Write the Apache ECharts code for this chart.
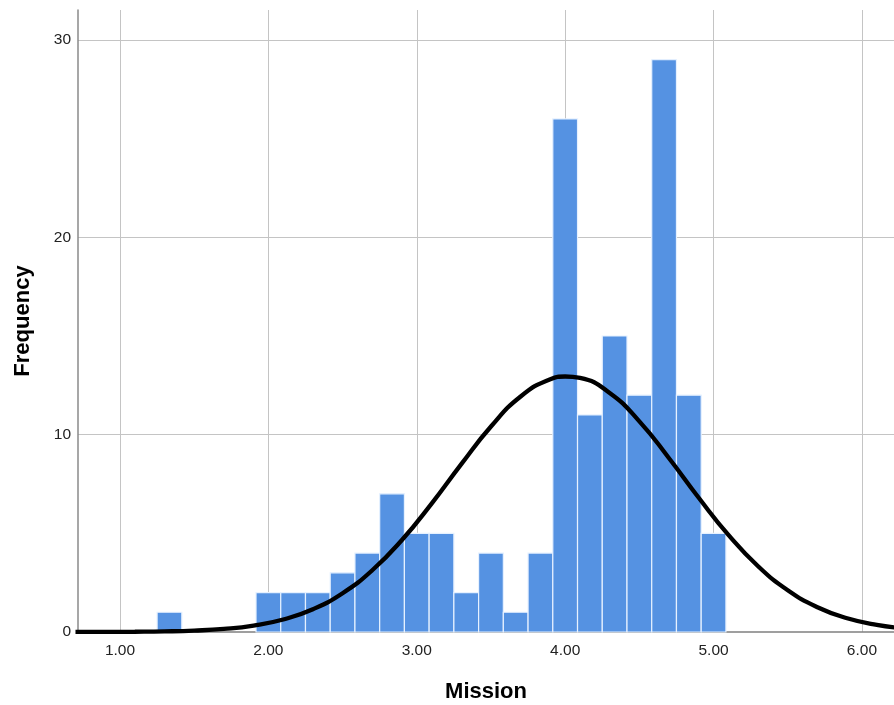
<!DOCTYPE html>
<html><head><meta charset="utf-8">
<script src="https://cdn.jsdelivr.net/npm/echarts@6/dist/echarts.min.js"></script>
<style>html,body{margin:0;padding:0;background:#fff}#c{width:894px;height:705px}</style>
</head><body><div id="c"></div>
<script>
// Histogram bins (Mission), bin width 1/6 starting at 1.25
const binStart = 1.25;
const binWidth = 1 / 6;
const counts = [1, 0, 0, 0, 2, 2, 2, 3, 4, 7, 5, 5, 2, 4, 1, 4, 26, 11, 15, 12, 29, 12, 5];
// Fitted normal curve (mean ~4.02, sd ~0.78, N=152), values read/estimated
const curveX = [0.7, 0.9, 1.1, 1.3, 1.5, 1.7, 1.9, 2.1, 2.3, 2.5, 2.7, 2.9, 3.1, 3.3, 3.5, 3.7, 3.9, 4.0, 4.1, 4.3, 4.5, 4.7, 4.9, 5.1, 5.3, 5.5, 5.7, 5.9, 6.1, 6.3];
const curveY = [0.002, 0.004, 0.012, 0.030, 0.072, 0.158, 0.328, 0.636, 1.155, 1.965, 3.128, 4.662, 6.509, 8.508, 10.413, 11.936, 12.810, 12.948, 12.873, 12.114, 10.674, 8.806, 6.804, 4.921, 3.334, 2.115, 1.256, 0.698, 0.364, 0.177];
const xTicks = [1, 2, 3, 4, 5, 6];
const yTicks = [0, 10, 20, 30];

const barData = [];
counts.forEach((c, i) => {
  if (c > 0) barData.push([binStart + i * binWidth, binStart + (i + 1) * binWidth, c]);
});
const curveData = curveX.map((x, i) => [x, curveY[i]]);

const chart = echarts.init(document.getElementById('c'), null, {renderer: 'canvas'});
const font = '"Liberation Sans", Arial, sans-serif';
chart.setOption({
  animation: false,
  backgroundColor: '#ffffff',
  grid: {left: 78, right: 0, top: 10, bottom: 73, containLabel: false, outerBoundsMode: 'none'},
  xAxis: {
    type: 'value', min: 0.717, max: 6.216, minInterval: 1, maxInterval: 1,
    name: 'Mission', nameLocation: 'middle', nameGap: 49,
    nameTextStyle: {fontFamily: font, fontSize: 22, fontWeight: 'bold', color: '#000'},
    axisLine: {show: true, onZero: false, lineStyle: {color: '#808080', width: 1.5}},
    axisTick: {show: false},
    axisLabel: {fontFamily: font, fontSize: 15.5, color: '#222', margin: 11,
      formatter: v => xTicks.includes(v) ? v.toFixed(2) : ''},
    splitLine: {show: true, showMinLine: false, showMaxLine: false, lineStyle: {color: '#c4c4c4', width: 1}}
  },
  yAxis: {
    type: 'value', min: 0, max: 31.52, interval: 10,
    name: 'Frequency', nameLocation: 'middle', nameGap: 44, nameRotate: 90,
    nameTextStyle: {fontFamily: font, fontSize: 22, fontWeight: 'bold', color: '#000'},
    axisLine: {show: true, lineStyle: {color: '#8a8a8a', width: 1.5}},
    axisTick: {show: false},
    axisLabel: {fontFamily: font, fontSize: 15.5, color: '#222', margin: 7,
      formatter: v => yTicks.includes(v) ? String(v) : ''},
    splitLine: {show: true, showMinLine: false, showMaxLine: false, lineStyle: {color: '#c4c4c4', width: 1}}
  },
  series: [
    {
      type: 'custom',
      data: barData,
      encode: {x: [0, 1], y: 2},
      z: 2,
      renderItem: (params, api) => {
        const p0 = api.coord([api.value(0), api.value(2)]);
        const p1 = api.coord([api.value(1), 0]);
        return {
          type: 'rect',
          shape: {x: p0[0], y: p0[1], width: p1[0] - p0[0], height: p1[1] - p0[1]},
          style: {fill: '#5592e2', stroke: '#e6f1ff', lineWidth: 1.2}
        };
      }
    },
    {
      type: 'line',
      data: curveData,
      smooth: true,
      symbol: 'none',
      z: 5,
      lineStyle: {color: '#000', width: 4.3}
    }
  ]
});
</script></body></html>
